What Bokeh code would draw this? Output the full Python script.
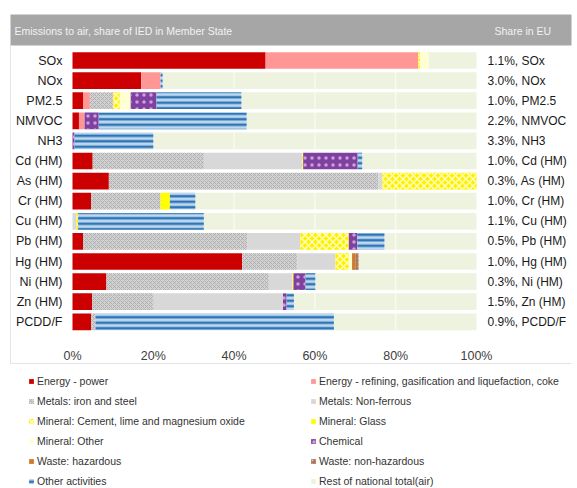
from bokeh.plotting import figure
from bokeh.models import Range1d, Legend, LegendItem, ColumnDataSource
from bokeh.core.properties import value
from bokeh.transform import stack
from bokeh.embed import file_html
from bokeh.resources import INLINE

# ---------------- data (percent of national total, top-to-bottom) ----------------
pollutants = ["SOx", "NOx", "PM2.5", "NMVOC", "NH3", "Cd (HM)", "As (HM)", "Cr (HM)",
              "Cu (HM)", "Pb (HM)", "Hg (HM)", "Ni (HM)", "Zn (HM)", "PCDD/F"]
eu_share = ["1.1%", "3.0%", "1.0%", "2.2%", "3.3%", "1.0%", "0.3%", "1.0%",
            "1.1%", "0.5%", "1.0%", "0.3%", "1.5%", "0.9%"]

energy_power     = [47.8, 17.0, 2.6, 1.6, 0.0, 5.0, 9.0, 4.6, 0.0, 2.6, 42.0, 8.4, 4.9, 4.6]
energy_refining  = [37.8, 4.8, 1.7, 1.4, 0.0, 0.0, 0.0, 0.0, 0.0, 0.0, 0.0, 0.0, 0.0, 0.0]
metals_iron      = [0.0, 0.0, 5.8, 0.0, 0.0, 27.5, 66.7, 17.2, 0.0, 40.6, 13.6, 40.2, 15.2, 1.1]
metals_nonferr   = [0.0, 0.0, 0.0, 0.0, 0.0, 24.3, 1.0, 0.0, 1.0, 13.2, 9.5, 5.8, 32.0, 0.0]
mineral_cement   = [0.5, 0.0, 1.6, 0.0, 0.0, 0.3, 23.3, 0.0, 0.4, 12.0, 3.3, 0.3, 0.0, 0.0]
mineral_glass    = [0.0, 0.0, 0.0, 0.0, 0.0, 0.0, 0.0, 2.3, 0.0, 0.0, 0.0, 0.0, 0.0, 0.0]
mineral_other    = [2.0, 0.0, 2.7, 0.0, 0.0, 0.0, 0.0, 0.0, 0.0, 0.0, 0.8, 0.0, 0.0, 0.0]
chemical         = [0.0, 0.0, 6.4, 3.5, 0.5, 13.5, 0.0, 0.0, 0.0, 2.1, 0.0, 3.0, 0.9, 0.0]
waste_haz        = [0.0, 0.0, 0.0, 0.0, 0.0, 0.0, 0.0, 0.0, 0.0, 0.0, 0.8, 0.0, 0.0, 0.0]
waste_nonhaz     = [0.0, 0.0, 0.0, 0.0, 0.0, 0.0, 0.0, 0.0, 0.0, 0.0, 0.8, 0.0, 0.0, 0.0]
other_activities = [0.0, 0.5, 21.0, 36.6, 19.5, 1.1, 0.0, 6.3, 31.1, 6.7, 0.0, 2.4, 1.8, 59.0]
rest_national    = [11.9, 77.7, 58.2, 56.9, 80.0, 28.3, 0.0, 69.6, 67.5, 22.8, 29.2, 39.9, 45.2, 35.3]

series_names = ["Energy - power", "Energy - refining, gasification and liquefaction, coke",
                "Metals: iron and steel", "Metals: Non-ferrous",
                "Mineral: Cement, lime and magnesium oxide", "Mineral: Glass",
                "Mineral: Other", "Chemical", "Waste: hazardous", "Waste: non-hazardous",
                "Other activities", "Rest of national total(air)"]
series_values = [energy_power, energy_refining, metals_iron, metals_nonferr, mineral_cement,
                 mineral_glass, mineral_other, chemical, waste_haz, waste_nonhaz,
                 other_activities, rest_national]
x_ticks = [0, 20, 40, 60, 80, 100]
header_left = "Emissions to air, share of IED in Member State"
header_right = "Share in EU"

# ---------------- styles ----------------
styles = [
    dict(fill_color="#CC0000"),
    dict(fill_color="#FF9797"),
    dict(fill_color="#D2D2D2", hatch_pattern="x", hatch_color="#A8A8A8", hatch_scale=4, hatch_weight=0.8),
    dict(fill_color="#D8D8D8"),
    dict(fill_color="#FFF000", hatch_pattern="x", hatch_color="#FFFFC0", hatch_scale=7, hatch_weight=1.5),
    dict(fill_color="#FFFF00"),
    dict(fill_color="#FFFFD2"),
    dict(fill_color="#8040A0", hatch_pattern=".", hatch_color="#C9A2DB", hatch_scale=7, hatch_weight=2),
    dict(fill_color="#D07A2A"),
    dict(fill_color="#A8745A", hatch_pattern=".", hatch_color="#E0C0A8", hatch_scale=4, hatch_weight=1.5),
    dict(fill_color="#BDD7EE", hatch_pattern="-", hatch_color="#2E75B6", hatch_scale=5.5, hatch_weight=2.5),
    dict(fill_color="#EEF3DF"),
]

FONT = value("Liberation Sans")

# ---------------- geometry (page pixels -> data units) ----------------
W, H = 577, 488          # figure size (page has no margin)
FX, FY = 0, 0            # figure origin on the page
X0, XS = 72, 4.04        # page x of 0 %, px per %
Y0, YS = 60, 20.1        # page y of first row, px per row


def dx(px):
    return (px - X0) / XS


def dy(py):
    return (py - Y0) / YS


p = figure(width=W, height=H,
           x_range=Range1d(dx(FX), dx(FX + W)),
           y_range=Range1d(dy(FY + H), dy(FY)),
           x_axis_type=None, y_axis_type=None,
           output_backend="svg", toolbar_location=None, min_border=0)
p.outline_line_color = None
p.xgrid.visible = False
p.ygrid.visible = False
p.background_fill_color = "white"

# header band
p.quad(left=[dx(10)], right=[dx(571)], top=[dy(14)], bottom=[dy(45)],
       fill_color="#A6A6A6", line_color=None)
p.text(x=[dx(14), dx(494)], y=[dy(30), dy(30)], text=[header_left, header_right],
       text_font=FONT, text_font_size="10.5px", text_color="#F2F2F2",
       text_baseline="middle", text_align="left")

# faint frame lines
p.line(x=[dx(10), dx(10), dx(571)], y=[dy(45), dy(363), dy(363)],
       line_color="#E4E4E4", line_width=1)

# stacked bars
keys = [f"s{i}" for i in range(len(series_names))]
data = {"pollutant": pollutants,
        "row": list(range(len(pollutants))),
        "eu": [f"{s}, {n}" for s, n in zip(eu_share, pollutants)]}
for k, v in zip(keys, series_values):
    data[k] = v
source = ColumnDataSource(data)


def add_bar(i):
    return p.hbar(y="row", left=stack(*keys[:i]), right=stack(*keys[:i + 1]),
                  height=0.83, source=source, line_color=None, **styles[i])


renderers = [None] * len(keys)
last = len(keys) - 1
renderers[last] = add_bar(last)          # rest of national total first (background)
# faint white gridlines showing through the "rest" area
p.segment(x0=x_ticks[1:-1], x1=x_ticks[1:-1],
          y0=[-0.5] * 4, y1=[len(pollutants) - 0.5] * 4,
          line_color="white", line_alpha=0.85, line_width=1)
for i in range(last):
    renderers[i] = add_bar(i)

# category labels (left) and EU share labels (right)
p.text(x=dx(62), y="row", text="pollutant", source=source,
       text_font=FONT, text_font_size="12.5px", text_color="#1A1A1A",
       text_align="right", text_baseline="middle")
p.text(x=dx(487), y="row", text="eu", source=source,
       text_font=FONT, text_font_size="12px", text_color="#1A1A1A",
       text_align="left", text_baseline="middle")

# x tick labels
p.text(x=x_ticks, y=[dy(355)] * len(x_ticks), text=[f"{t}%" for t in x_ticks],
       text_font=FONT, text_font_size="12.5px", text_color="#404040",
       text_align="center", text_baseline="middle")

# legend (two columns)
left_idx = [0, 2, 4, 6, 8, 10]
right_idx = [1, 3, 5, 7, 9, 11]
order = left_idx + right_idx
items = [LegendItem(label=series_names[i], renderers=[renderers[i]]) for i in order]
legend = Legend(items=items, location=(28, -2), nrows=6, orientation="vertical",
                glyph_width=6, glyph_height=6, label_height=18, spacing=2,
                label_standoff=3, label_width=271, padding=0, margin=0,
                border_line_color=None, background_fill_alpha=0,
                label_text_font="Liberation Sans", label_text_font_size="10.5px",
                label_text_color="#333333")
p.add_layout(legend)

open("out.html", "w").write(file_html(p, INLINE))
